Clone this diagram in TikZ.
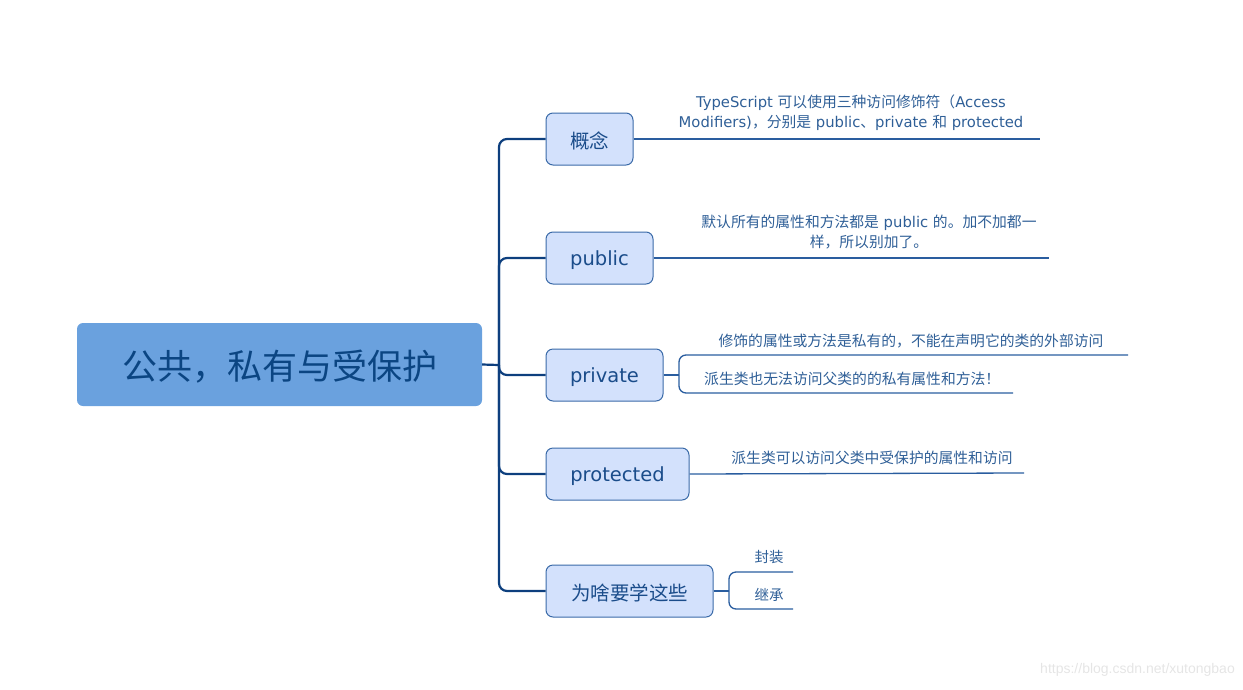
\documentclass[tikz,border=0pt]{standalone}
\usepackage{fontspec}
\setmainfont{Noto Sans CJK SC}
\newfontfamily\wmfont{Liberation Sans}
\newfontfamily\latf{DejaVu Sans}
\newcommand{\lat}[1]{{\latf #1}}
\newcommand{\dn}[1]{\raisebox{-2pt}[\height][\depth]{#1}}
\definecolor{rootfill}{HTML}{6AA1DE}
\definecolor{roottext}{HTML}{0B4582}
\definecolor{trunkc}{HTML}{0D3F7E}
\definecolor{childfill}{HTML}{D3E1FC}
\definecolor{childdraw}{HTML}{3A6AA8}
\definecolor{childtext}{HTML}{1A4C8A}
\definecolor{leafc}{HTML}{2A5D9F}
\definecolor{leaftextc}{HTML}{2F5F97}
\tikzset{
  rootbox/.style={fill=rootfill, draw=none, rounded corners=6pt, inner sep=0pt, text=roottext, font=\fontsize{35}{40}\selectfont},
  childbox/.style={fill=childfill, draw=childdraw, line width=1pt, rounded corners=7pt, inner sep=0pt, minimum height=52pt, text=childtext, font=\fontsize{19.5}{23}\selectfont},
  trunk/.style={draw=trunkc, line width=2.2pt, rounded corners=8pt},
  leaf/.style={draw=leafc, line width=1.3pt, rounded corners=7pt},
  leaftext/.style={text=leaftextc, inner sep=0pt, font=\fontsize{14.8}{20}\selectfont},
}
\begin{document}
\begin{tikzpicture}[x=1pt,y=-1pt]
\useasboundingbox (0,0) rectangle (1243,689);
\node[rootbox, minimum width=405pt, minimum height=83pt] (root) at (279.5,364.5) {\dn{公共，私有与受保护}};
\node[childbox, minimum width=87pt] (c1) at (589.5,139) {\dn{概念}};
\node[childbox, minimum width=107pt] (c2) at (599.5,258) {\dn{\lat{public}}};
\node[childbox, minimum width=117pt] (c3) at (604.5,375) {\dn{\lat{private}}};
\node[childbox, minimum width=143pt] (c4) at (617.5,474) {\dn{\lat{protected}}};
\node[childbox, minimum width=167pt] (c5) at (629.5,591) {\dn{为啥要学这些}};
\coordinate (J) at (499,365);
\draw[trunk, rounded corners=0pt] (root.east) -- (J);
\foreach \c in {c1,c2,c3,c4,c5} { \draw[trunk] (J) |- (\c.west); }
% concept
\coordinate (e1) at (1040,139);
\draw[leaf] (c1.east) -- (e1);
\node[leaftext, align=center] (t1) at (851,113) {\lat{TypeScript }可以使用三种访问修饰符（\lat{Access}\\\lat{Modifiers)}，分别是\lat{ public}、\lat{private }和\lat{ protected}};
% public
\coordinate (e2) at (1049,258);
\draw[leaf] (c2.east) -- (e2);
\node[leaftext, align=center] (t2) at (869,232) {默认所有的属性和方法都是\lat{ public }的。加不加都一\\样，所以别加了。};
% private
\coordinate (P) at (679,375);
\coordinate (e3a) at (1128,355);
\coordinate (e3b) at (1013,393);
\draw[leaf, rounded corners=0pt] (c3.east) -- (P);
\draw[leaf] (P) |- (e3a);
\draw[leaf] (P) |- (e3b);
\node[leaftext] (t3a) at (911,341) {修饰的属性或方法是私有的，不能在声明它的类的外部访问};
\node[leaftext, anchor=west] (t3b) at (704,379) {派生类也无法访问父类的的私有属性和方法！};
% protected
\coordinate (e4) at (1024,473);
\draw[leaf] (c4.east) -- (e4);
\node[leaftext] (t4) at (872,458) {派生类可以访问父类中受保护的属性和访问};
% why
\coordinate (Q) at (729,591);
\coordinate (e5a) at (793,572);
\coordinate (e5b) at (793,609);
\draw[leaf, rounded corners=0pt] (c5.east) -- (Q);
\draw[leaf] (Q) |- (e5a);
\draw[leaf] (Q) |- (e5b);
\node[leaftext, font=\fontsize{14.5}{18}\selectfont] (t5a) at (769,557) {封装};
\node[leaftext, font=\fontsize{14.5}{18}\selectfont] (t5b) at (769,595) {继承};
\node[text=black!10, inner sep=0pt, font=\wmfont\fontsize{14}{16}\selectfont, anchor=east] (wm) at (1235,670) {https://blog.csdn.net/xutongbao};
\end{tikzpicture}
\end{document}
